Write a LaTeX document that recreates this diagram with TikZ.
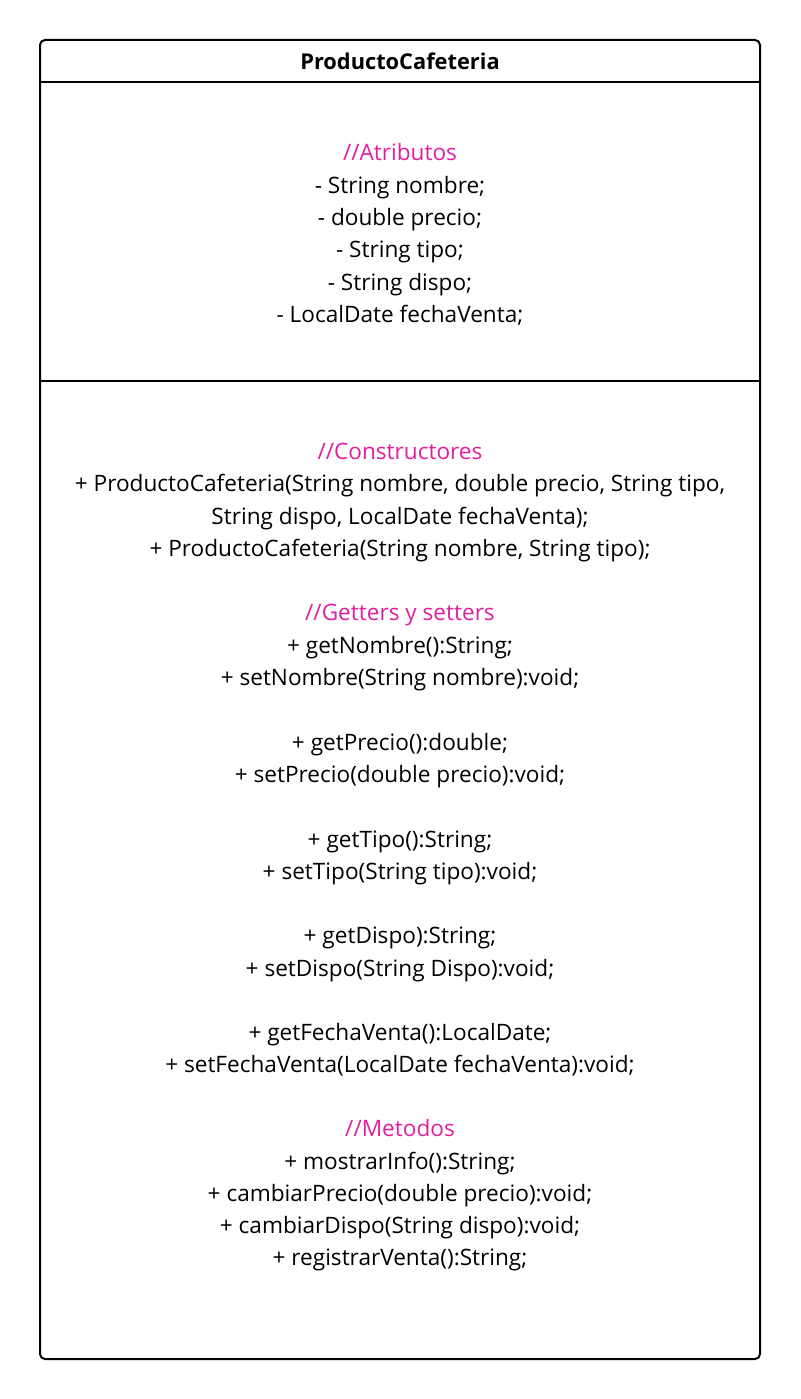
\documentclass[tikz,border=0pt]{standalone}
\usepackage{fontspec}
\setmainfont{Open Sans}
\definecolor{cmt}{RGB}{225,30,160}
\newcommand\umlline[4][txt]{\node[#1] (#2) at (400,#3+8.5) {#4};}
\begin{document}
\begin{tikzpicture}[x=1pt,y=-1pt,
  txt/.style={anchor=base,inner sep=0pt,font=\fontsize{22.6}{26}\selectfont},
  cmtxt/.style={txt,text=cmt},
  box/.style={draw=black,line width=2pt,rounded corners=5pt}]
\useasboundingbox (0,0) rectangle (800,1399);
\draw[box] (40,40) rectangle (760,1359);
\coordinate (hl) at (40,82); \coordinate (hr) at (760,82);
\coordinate (sl) at (40,381); \coordinate (sr) at (760,381);
\draw[line width=2pt] (hl) -- (hr);
\draw[line width=2pt] (sl) -- (sr);
\node[txt,font=\fontsize{21.8}{26}\selectfont\bfseries] (title) at (400,70) {ProductoCafeteria};
\umlline[cmtxt]{a0}{152}{//Atributos}
\umlline{a1}{185}{- String nombre;}
\umlline{a2}{217}{- double precio;}
\umlline{a3}{249}{- String tipo;}
\umlline{a4}{282}{- String dispo;}
\umlline{a5}{314}{- LocalDate fechaVenta;}
\umlline[cmtxt]{c0}{451}{//Constructores}
\umlline{c1}{483}{+ ProductoCafeteria(String nombre, double precio, String tipo,}
\umlline{c2}{516}{String dispo, LocalDate fechaVenta);}
\umlline{c3}{548}{+ ProductoCafeteria(String nombre, String tipo);}
\umlline[cmtxt]{g0}{612}{//Getters y setters}
\umlline{g1}{645}{+ getNombre():String;}
\umlline{g2}{677}{+ setNombre(String nombre):void;}
\umlline{g3}{742}{+ getPrecio():double;}
\umlline{g4}{774}{+ setPrecio(double precio):void;}
\umlline{g5}{839}{+ getTipo():String;}
\umlline{g6}{871}{+ setTipo(String tipo):void;}
\umlline{g7}{935}{+ getDispo):String;}
\umlline{g8}{968}{+ setDispo(String Dispo):void;}
\umlline{g9}{1032}{+ getFechaVenta():LocalDate;}
\umlline{g10}{1064}{+ setFechaVenta(LocalDate fechaVenta):void;}
\umlline[cmtxt]{m0}{1128}{//Metodos}
\umlline{m1}{1161}{+ mostrarInfo():String;}
\umlline{m2}{1193}{+ cambiarPrecio(double precio):void;}
\umlline{m3}{1225}{+ cambiarDispo(String dispo):void;}
\umlline{m4}{1257}{+ registrarVenta():String;}
\end{tikzpicture}
\end{document}
